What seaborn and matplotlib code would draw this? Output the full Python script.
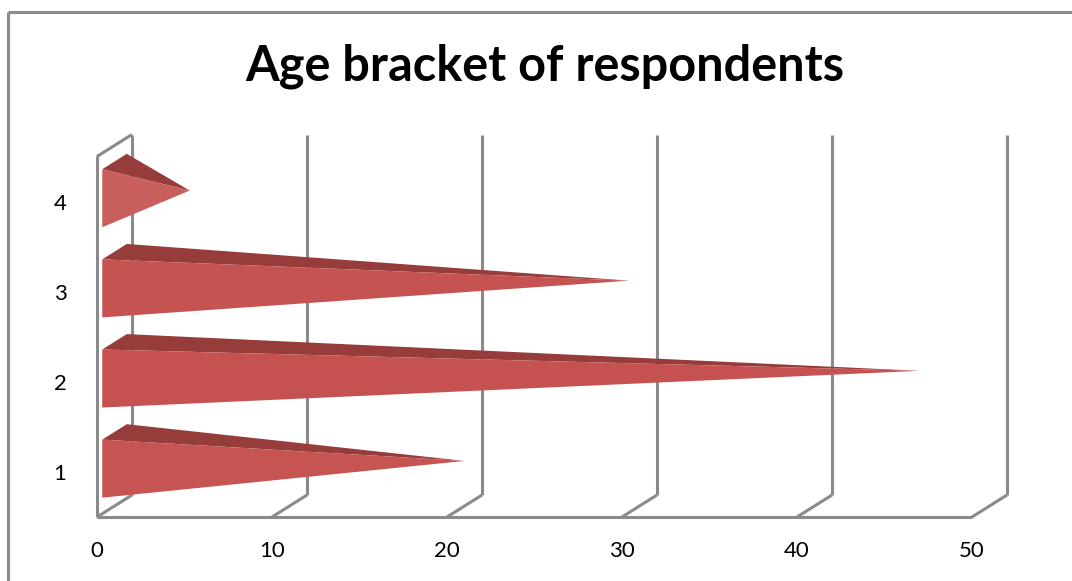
import numpy as np
import matplotlib
matplotlib.use("Agg")
import matplotlib.pyplot as plt
import seaborn as sns
from matplotlib.patches import Polygon
from matplotlib.lines import Line2D
from matplotlib.colors import to_rgb

# Chart data
categories = ["1", "2", "3", "4"]
values = [20, 46, 29.4, 4.3]
x_ticks = [0, 10, 20, 30, 40, 50]
title = "Age bracket of respondents"

sns.set_theme(style="white")
plt.rcParams["font.family"] = ["Lato", "DejaVu Sans"]

W, H = 1072, 581
fig = plt.figure(figsize=(W / 100, H / 100), dpi=100)
fig.patch.set_facecolor("white")

# 3-D box depth expressed in data units (x: value units, y: category units)
DX, DY = 2.0, 0.244
y_pos = np.arange(1, len(categories) + 1)
y0, y1 = 0.5, len(categories) + 0.5
x_max = x_ticks[-1]

ax = fig.add_axes([97 / W, (H - 517) / H, 910 / W, 382.5 / H])
ax.set_xlim(0, x_max + DX)
ax.set_ylim(y0, y1 + DY)
for s in ax.spines.values():
    s.set_visible(False)
ax.set_facecolor("none")

wall = dict(color="#8a8a8a", lw=2.2, solid_capstyle="butt", clip_on=False, zorder=1)
# floor front edge and depth ticks, back-wall gridlines
ax.plot([0, x_max], [y0, y0], **wall)
for t in x_ticks:
    ax.plot([t, t + DX], [y0, y0 + DY], **wall)
    ax.plot([t + DX, t + DX], [y0 + DY, y1 + DY], **wall)
# side wall
ax.plot([0, 0], [y0, y1], **wall)
ax.plot([0, DX], [y1, y1 + DY], **wall)

# horizontal pyramids
front_col = np.array(to_rgb("#c4504e"))
top_col = np.array(to_rgb("#963c3a"))
hh = 0.322          # half height of the pyramid base
f, b = 0.15, 0.85   # front / back of the base within the box depth
for c, v in zip(y_pos, values):
    fb = (f * DX, c - hh + f * DY)
    ft = (f * DX, c + hh + f * DY)
    bt = (b * DX, c + hh + b * DY)
    apex = (v + 0.5 * DX, c + 0.5 * DY)
    # shorter pyramids have steeper faces that catch more light
    tilt = np.arctan2(0.5 * DX, v + 0.5 * DX)
    shade = np.clip(front_col + 0.45 * np.sin(tilt) * (1 - front_col), 0, 1)
    ax.add_patch(Polygon([ft, bt, apex], closed=True, facecolor=top_col,
                         edgecolor="none", zorder=3))
    ax.add_patch(Polygon([fb, ft, apex], closed=True, facecolor=shade,
                         edgecolor="none", zorder=4))

ax.set_xticks(x_ticks)
ax.set_xticklabels([str(t) for t in x_ticks])
ax.set_yticks(y_pos)
ax.set_yticklabels(categories)
ax.tick_params(axis="x", length=0, pad=17, labelsize=16, colors="black")
ax.tick_params(axis="y", length=0, pad=22, labelsize=16, colors="black")

fig.text(545 / W, 1 - 66 / H, title, ha="center", va="center",
         fontsize=35, fontweight="bold", color="black")

# chart-area frame (top and left edges)
frame = dict(color="#8a8a8a", lw=2.2, solid_capstyle="butt")
fig.add_artist(Line2D([8 / W, 1], [1 - 12 / H, 1 - 12 / H], transform=fig.transFigure, **frame))
fig.add_artist(Line2D([8 / W, 8 / W], [0, 1 - 12 / H], transform=fig.transFigure, **frame))

fig.savefig("out.png", dpi=100, facecolor="white")
